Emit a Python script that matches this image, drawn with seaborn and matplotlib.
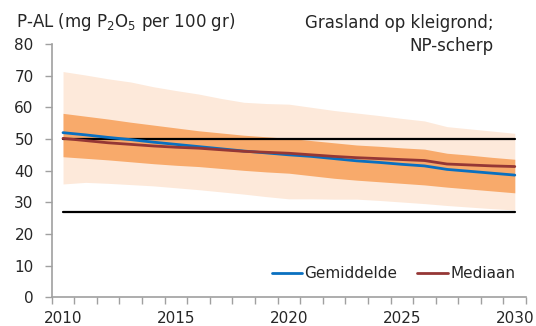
import numpy as np
import pandas as pd
import matplotlib
matplotlib.use("Agg")
import matplotlib.pyplot as plt
from matplotlib.ticker import MultipleLocator, FixedLocator
import seaborn as sns

sns.set_style("white")
plt.rcParams['font.family'] = ['DejaVu Sans']

# --- data ---
years = list(range(2010, 2031))
outer_upper = [71.3, 70.2, 69.0, 68.0, 66.5, 65.3, 64.2, 62.8, 61.6, 61.2, 61.0,
               60.0, 59.0, 58.2, 57.4, 56.5, 55.7, 53.9, 53.2, 52.5, 51.8]
outer_lower = [35.8, 36.3, 36.0, 35.6, 35.2, 34.6, 34.0, 33.3, 32.6, 31.8, 31.1,
               31.1, 31.0, 31.0, 30.6, 30.1, 29.6, 29.0, 28.5, 28.0, 27.6]
inner_upper = [58.1, 57.2, 56.3, 55.3, 54.4, 53.5, 52.6, 51.9, 51.2, 50.7, 50.2,
               49.5, 48.8, 48.1, 47.7, 47.2, 46.8, 45.5, 44.9, 44.2, 43.6]
inner_lower = [44.4, 43.9, 43.4, 42.8, 42.2, 41.7, 41.3, 40.7, 40.1, 39.6, 39.2,
               38.4, 37.6, 37.0, 36.5, 36.0, 35.5, 34.8, 34.2, 33.6, 33.0]
gemiddelde = [52.0, 51.3, 50.5, 49.8, 49.0, 48.3, 47.6, 46.9, 46.2, 45.6, 45.0,
              44.5, 43.8, 43.1, 42.6, 42.0, 41.5, 40.4, 39.8, 39.2, 38.6]
mediaan = [50.2, 49.5, 48.8, 48.3, 47.8, 47.4, 47.1, 46.6, 46.1, 45.8, 45.5,
           45.0, 44.5, 44.1, 43.8, 43.5, 43.2, 42.1, 41.8, 41.5, 41.3]
ref_levels = [50, 27]

df = pd.DataFrame({"Jaar": years, "Gemiddelde": gemiddelde, "Mediaan": mediaan})
long_df = df.melt(id_vars="Jaar", var_name="Reeks", value_name="P-AL")

fig = plt.figure(figsize=(5.36, 3.26), dpi=100)
ax = fig.add_axes([0.0965, 0.088, 0.885, 0.777])

# bands
ax.fill_between(years, outer_lower, outer_upper, color="#FDE9DA", lw=0)
ax.fill_between(years, inner_lower, inner_upper, color="#F8AA6B", lw=0)

# reference lines
for lvl in ref_levels:
    ax.plot([years[0], years[-1]], [lvl, lvl], color="black", lw=1.6)

sns.lineplot(data=long_df, x="Jaar", y="P-AL", hue="Reeks", ax=ax,
             palette={"Gemiddelde": "#0A70C0", "Mediaan": "#953735"}, lw=2)

ax.set_xlim(2009.5, 2030.5)
ax.set_ylim(0, 80)
ax.set_xlabel("")
ax.set_ylabel("")

ax.xaxis.set_major_locator(FixedLocator([2010, 2015, 2020, 2025, 2030]))
ax.xaxis.set_minor_locator(FixedLocator(np.arange(2009.5, 2031, 1)))
ax.yaxis.set_major_locator(MultipleLocator(10))
ax.tick_params(axis="x", which="major", length=0, labelsize=11, pad=10)
ax.tick_params(axis="x", which="minor", length=5, color="#A0A0A0", width=1, direction="out")
ax.tick_params(axis="y", which="major", length=5, color="#A0A0A0", width=1,
               direction="out", labelsize=11, pad=8)
ax.tick_params(left=True, bottom=True)
ax.tick_params(axis="x", which="minor", bottom=True)

for side in ["top", "right"]:
    ax.spines[side].set_visible(False)
for side in ["left", "bottom"]:
    ax.spines[side].set_color("#A0A0A0")
    ax.spines[side].set_linewidth(1.2)

leg = ax.legend(loc="lower right", bbox_to_anchor=(1.006, 0.01), ncol=2, frameon=False,
                fontsize=11, handlelength=2.0, handletextpad=0.15, columnspacing=1.3)
for line in leg.get_lines():
    line.set_linewidth(2)

fig.text(0.03, 0.9325, "P-AL (mg P$_2$O$_5$ per 100 gr)", fontsize=12, va="center", ha="left")
fig.text(0.9216, 0.930, "Grasland op kleigrond;", fontsize=12, va="center", ha="right")
fig.text(0.9216, 0.859, "NP-scherp", fontsize=12, va="center", ha="right")

fig.savefig("out.png", dpi=100)
